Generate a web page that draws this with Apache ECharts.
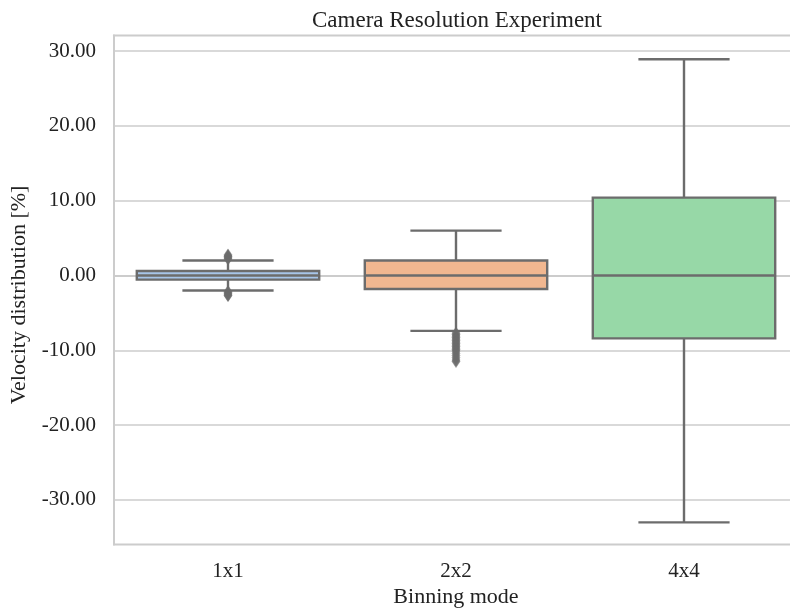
<!DOCTYPE html>
<html>
<head>
<meta charset="utf-8">
<script src="https://cdn.jsdelivr.net/npm/echarts@6/dist/echarts.min.js"></script>
<style>html,body{margin:0;padding:0;background:#fff;}#c{width:790px;height:613px;}</style>
</head>
<body>
<div id="c"></div>
<script>
// ---- data ----
const categories = ['1x1', '2x2', '4x4'];
// [lowerWhisker, q1, median, q3, upperWhisker]
const stats1x1 = [-2.0, -0.55, 0.0, 0.6, 2.0];
const stats2x2 = [-7.4, -1.8, 0.0, 2.0, 6.0];
const stats4x4 = [-33.0, -8.4, 0.0, 10.4, 28.9];
const outliers1x1 = [2.2, 2.35, 2.5, 2.6, 2.75, -2.15, -2.3, -2.45, -2.6, -2.7];
const outliers2x2 = [-7.7, -7.9, -8.1, -8.3, -8.5, -8.7, -8.9, -9.1, -9.3, -9.5, -9.7, -9.9, -10.1, -10.4, -10.7, -11.0, -11.3, -11.5];
const outliers4x4 = [];
const yTicks = [-30, -20, -10, 0, 10, 20, 30];
const boxColors = ['#a7c5e8', '#f1b790', '#97d8a7'];

const allStats = [stats1x1, stats2x2, stats4x4];
const allOutliers = [outliers1x1, outliers2x2, outliers4x4];
const boxData = allStats.map((s, i) => [i].concat(s));
const outlierData = [];
allOutliers.forEach((arr, i) => arr.forEach(v => outlierData.push([i, v])));

const edge = '#6c6c6c';
const lw = 2.4;
const font = 'Liberation Serif, Times New Roman, serif';

const chart = echarts.init(document.getElementById('c'));
chart.setOption({
  animation: false,
  backgroundColor: '#ffffff',
  title: {
    text: 'Camera Resolution Experiment',
    left: 452, top: 4, textAlign: 'center',
    textStyle: { fontFamily: font, fontSize: 23, fontWeight: 'normal', color: '#222' }
  },
  grid: {
    left: 114, top: 35.5, width: 684, height: 509,
    outerBoundsMode: 'none', containLabel: false,
    show: true, borderColor: '#cccccc', borderWidth: 2, backgroundColor: 'transparent'
  },
  xAxis: {
    type: 'category', data: categories, boundaryGap: true,
    name: 'Binning mode', nameLocation: 'middle', nameGap: 37,
    nameTextStyle: { fontFamily: font, fontSize: 22, color: '#222' },
    axisLine: { show: true, lineStyle: { color: '#cccccc', width: 2 } },
    axisTick: { show: false },
    axisLabel: { fontFamily: font, fontSize: 21, color: '#222', margin: 16 },
    splitLine: { show: false }
  },
  yAxis: {
    type: 'value', min: -35.95, max: 32.07,
    name: 'Velocity distribution [%]', nameLocation: 'middle', nameGap: 84,
    nameTextStyle: { fontFamily: font, fontSize: 22, color: '#222', padding: [0, 10, 0, 0] },
    axisLine: { show: true, lineStyle: { color: '#cccccc', width: 2 } },
    axisTick: { show: false, customValues: yTicks },
    axisLabel: { fontFamily: font, fontSize: 21, color: '#222', margin: 18,
      customValues: yTicks, formatter: v => Number(v).toFixed(2) },
    splitLine: { show: true, lineStyle: { color: '#cccccc', width: 1.6 } }
  },
  series: [
    {
      type: 'custom',
      data: boxData,
      z: 3,
      renderItem: function (params, api) {
        const x = api.value(0);
        const lo = api.coord([x, api.value(1)]);
        const q1 = api.coord([x, api.value(2)]);
        const med = api.coord([x, api.value(3)]);
        const q3 = api.coord([x, api.value(4)]);
        const hi = api.coord([x, api.value(5)]);
        const band = api.size([1, 0])[0];
        const bw = band * 0.8;
        const cw = bw / 2;
        const cx = lo[0];
        const ls = { stroke: edge, lineWidth: lw };
        return {
          type: 'group',
          children: [
            { type: 'line', shape: { x1: cx, y1: q3[1], x2: cx, y2: hi[1] }, style: ls },
            { type: 'line', shape: { x1: cx, y1: q1[1], x2: cx, y2: lo[1] }, style: ls },
            { type: 'line', shape: { x1: cx - cw / 2, y1: hi[1], x2: cx + cw / 2, y2: hi[1] }, style: ls },
            { type: 'line', shape: { x1: cx - cw / 2, y1: lo[1], x2: cx + cw / 2, y2: lo[1] }, style: ls },
            { type: 'rect', shape: { x: cx - bw / 2, y: q3[1], width: bw, height: q1[1] - q3[1] },
              style: { fill: boxColors[x], stroke: edge, lineWidth: lw } },
            { type: 'line', shape: { x1: cx - bw / 2, y1: med[1], x2: cx + bw / 2, y2: med[1] }, style: ls }
          ]
        };
      }
    },
    {
      type: 'scatter',
      data: outlierData,
      z: 4,
      symbol: 'diamond',
      symbolSize: [8, 12],
      itemStyle: { color: edge, borderColor: edge, borderWidth: 0.5 }
    }
  ]
});
</script>
</body>
</html>
